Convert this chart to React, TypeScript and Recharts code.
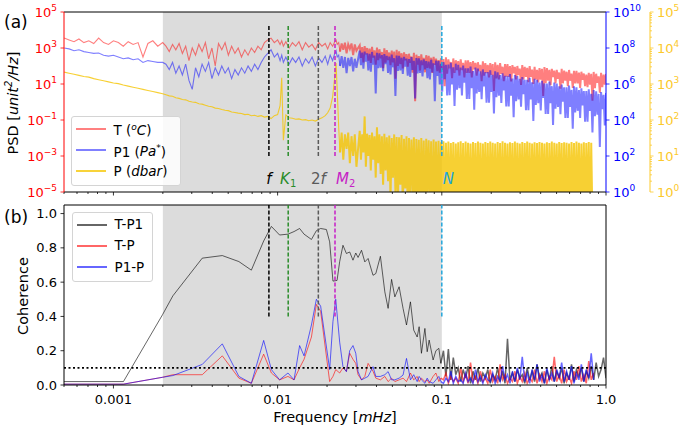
import React from 'react';
import { LineChart, Line, XAxis, YAxis, ReferenceArea, ReferenceLine, Legend } from 'recharts';

// (a) spectra — log10 of frequency [mHz] and log10 of each PSD
const psdLogFreq = [
  -3.3, -3.27, -3.24, -3.21, -3.18, -3.15, -3.12, -3.09, -3.06, -3.03, -3.0, -2.97, -2.94, -2.91, -2.88, -2.85, -2.82, -2.79, -2.76, -2.73, -2.7,
  -2.68, -2.66, -2.64, -2.62, -2.6, -2.58, -2.56, -2.54, -2.52, -2.5, -2.48, -2.46, -2.44, -2.42, -2.4, -2.38, -2.36, -2.34, -2.32, -2.3,
  -2.28, -2.26, -2.24, -2.22, -2.2, -2.18, -2.16, -2.14, -2.12, -2.1, -2.08, -2.06, -2.04, -2.02, -2.0,
  -1.985, -1.975, -1.965, -1.95,
  -1.93, -1.91, -1.89, -1.87, -1.85, -1.83, -1.81, -1.79, -1.77, -1.75, -1.73, -1.71,
  -1.695, -1.68, -1.665, -1.652, -1.644, -1.637, -1.628,
  -1.62, -1.61, -1.6, -1.59, -1.58, -1.57, -1.56, -1.55, -1.54, -1.53, -1.52,
  -1.5, -1.4925, -1.485, -1.4775, -1.47, -1.4625, -1.455, -1.4475,
  -1.44, -1.4325, -1.425, -1.4175, -1.41, -1.4025, -1.395, -1.3875,
  -1.38, -1.3725, -1.365, -1.3575, -1.35, -1.3425, -1.335, -1.3275,
  -1.32, -1.3125, -1.305, -1.2975, -1.29, -1.2825, -1.275, -1.2675,
  -1.26, -1.2525, -1.245, -1.2375, -1.23, -1.2225, -1.215, -1.2075,
  -1.2, -1.1925, -1.185, -1.1775, -1.17, -1.1625, -1.155, -1.1475,
  -1.14, -1.1325, -1.125, -1.1175, -1.11, -1.1025, -1.095, -1.0875,
  -1.08, -1.0725, -1.065, -1.0575, -1.05, -1.0425, -1.035, -1.0275,
  -1.02, -1.0125, -1.005, -0.9975, -0.99, -0.9825, -0.975, -0.9675,
  -0.96, -0.9525, -0.945, -0.9375, -0.93, -0.9225, -0.915, -0.9075,
  -0.9, -0.8925, -0.885, -0.8775, -0.87, -0.8625, -0.855, -0.8475,
  -0.84, -0.8325, -0.825, -0.8175, -0.81, -0.8025, -0.795, -0.7875,
  -0.78, -0.7725, -0.765, -0.7575, -0.75, -0.7425, -0.735, -0.7275,
  -0.72, -0.7125, -0.705, -0.6975, -0.69, -0.6825, -0.675, -0.6675,
  -0.66, -0.6525, -0.645, -0.6375, -0.63, -0.6225, -0.615, -0.6075,
  -0.6, -0.5925, -0.585, -0.5775, -0.57, -0.5625, -0.555, -0.5475,
  -0.54, -0.5325, -0.525, -0.5175, -0.51, -0.5025, -0.495, -0.4875,
  -0.48, -0.4725, -0.465, -0.4575, -0.45, -0.4425, -0.435, -0.4275,
  -0.42, -0.4125, -0.405, -0.3975, -0.39, -0.3825, -0.375, -0.3675,
  -0.36, -0.3525, -0.345, -0.3375, -0.33, -0.3225, -0.315, -0.3075,
  -0.3, -0.2925, -0.285, -0.2775, -0.27, -0.2625, -0.255, -0.2475,
  -0.24, -0.2325, -0.225, -0.2175, -0.21, -0.2025, -0.195, -0.1875,
  -0.18, -0.1725, -0.165, -0.1575, -0.15, -0.1425, -0.135, -0.1275,
  -0.12, -0.1125, -0.105, -0.0975, -0.09, -0.0825, -0.075, -0.0675,
  -0.06, -0.0525, -0.045, -0.0375, -0.03, -0.0225, -0.015, -0.0075,
  0,
];

// T in °C²/Hz (left axis)
const tempLogPsd = [
  3.55, 3.45, 3.35, 3.5, 3.3, 3.4, 3.25, 3.55, 3.3, 3.2, 3.4, 3.3, 3.1, 3.35, 3.2, 3.3, 2.5, 3.25, 3.4, 3.1, 3.3,
  3.1, 2.8, 3.2, 2.9, 3.25, 2.7, 3.1, 2.3, 3.0, 2.6, 3.2, 2.8, 3.3, 2.4, 3.0, 2.0, 3.25, 2.9, 3.3, 2.6,
  3.1, 2.7, 3.0, 2.5, 2.9, 2.6, 3.0, 2.75, 3.1, 2.9, 3.3, 3.45, 3.55, 3.3, 3.45,
  3.2, 3.4, 3.1, 3.35,
  3.0, 3.3, 3.1, 3.35, 2.9, 3.3, 3.05, 3.2, 2.9, 3.3, 3.1, 3.25,
  2.95, 3.3, 3.1, 3.35, 3.45, 3.2, 3.3,
  2.8, 3.25, 2.9, 3.3, 2.7, 3.2, 2.95, 3.25, 2.6, 3.2, 2.85,
  3.15, 2.45, 3.05, 2.2, 3.1, 2.65, 3.0, 2.3,
  2.97, 2.17, 3.07, 2.47, 2.87, 2.07, 3.02, 2.32,
  2.93, 2.43, 2.78, 1.88, 2.98, 2.18, 2.88, 2.33,
  2.75, 2.05, 2.85, 2.2, 2.8, 1.3, 2.9, 2.0,
  2.81, 2.11, 2.71, 1.86, 2.76, 2.31, 2.66, 1.96,
  2.68, 2.18, 2.53, 1.63, 2.73, 0.05, 2.63, 2.08,
  2.55, 1.75, 2.65, 2.05, 2.45, 1.65, 2.6, 1.9,
  2.56, 1.86, 2.46, 1.61, 2.51, 2.06, 2.41, 1.71,
  2.33, 1.63, 2.43, 1.78, 2.38, 0.88, 2.48, 1.58,
  2.37, 1.87, 2.22, 1.32, 2.42, 1.62, 2.32, 1.77,
  2.27, 1.47, 2.37, 1.77, 2.17, 1.37, 2.32, 1.62,
  2.32, 1.62, 2.22, 1.37, 2.27, 1.82, 2.17, 1.47,
  2.21, 1.71, 2.06, 1.16, 2.26, 1.46, 2.16, 1.61,
  2.06, 1.36, 2.16, 1.51, 2.11, 0.61, 2.21, 1.31,
  2.06, 1.26, 2.16, 1.56, 1.96, 1.16, 2.11, 1.41,
  2.1, 1.4, 2.0, 1.15, 2.05, 1.6, 1.95, 1.25,
  2.0, 1.5, 1.85, 0.95, 2.05, 1.25, 1.95, 1.4,
  1.9, 1.1, 2.0, 1.4, 1.8, 1.0, 1.95, 1.25,
  1.79, 1.09, 1.89, 1.24, 1.84, 0.34, 1.94, 1.04,
  1.89, 1.19, 1.79, 0.94, 1.84, 1.39, 1.74, 1.04,
  1.79, 1.29, 1.64, 0.74, 1.84, 1.04, 1.74, 1.19,
  1.68, 0.88, 1.78, 1.18, 1.58, 0.78, 1.73, 1.03,
  1.73, 1.03, 1.63, 0.78, 1.68, 1.23, 1.58, 0.88,
  1.52, 0.82, 1.62, 0.97, 1.57, 0.07, 1.67, 0.77,
  1.57, 1.07, 1.42, 0.52, 1.62, 0.82, 1.52, 0.97,
  1.56,
];

// P1 in Pa*²/Hz (inner right axis)
const p1LogPsd = [
  8.0, 7.95, 7.85, 7.9, 7.8, 7.75, 7.7, 7.72, 7.6, 7.55, 7.6, 7.5, 7.4, 7.45, 7.35, 7.4, 7.2, 7.3, 7.25, 7.2, 7.2,
  7.1, 6.8, 7.2, 6.6, 7.0, 6.5, 7.1, 6.2, 5.7, 6.9, 6.4, 7.1, 6.7, 7.2, 6.3, 6.9, 6.5, 7.0, 6.6, 6.9,
  6.3, 6.8, 6.5, 6.9, 6.6, 7.0, 6.7, 7.1, 6.8, 7.2, 7.5, 7.7, 7.9, 7.5, 7.7,
  7.3, 7.6, 7.2, 7.5,
  7.1, 7.45, 7.2, 7.5, 7.0, 7.4, 7.15, 7.5, 7.0, 7.45, 7.2, 7.55,
  7.1, 7.6, 7.3, 7.7, 7.85, 7.5, 7.6,
  7.0, 7.55, 6.9, 7.5, 6.6, 7.45, 7.0, 7.5, 6.7, 7.4, 6.9,
  7.85, 7.05, 7.75, 6.85, 7.8, 7.25, 7.7, 6.75,
  7.68, 6.68, 7.78, 7.08, 7.58, 5.48, 7.73, 6.88,
  7.71, 6.91, 7.61, 6.71, 7.66, 7.11, 7.56, 6.61,
  7.53, 6.53, 7.63, 6.93, 7.43, 5.33, 7.58, 6.73,
  7.56, 6.76, 7.46, 6.56, 7.51, 6.96, 7.41, 6.46,
  7.39, 6.39, 7.49, 6.79, 7.29, 5.19, 7.44, 6.59,
  7.42, 6.62, 7.32, 6.42, 7.37, 6.82, 7.27, 6.32,
  7.25, 6.25, 7.35, 6.65, 7.15, 5.05, 7.3, 6.45,
  7.27, 5.97, 7.12, 5.57, 7.22, 6.27, 7.07, 5.37,
  7.08, 5.38, 7.18, 5.98, 6.93, 4.78, 7.13, 5.68,
  7.07, 5.77, 6.92, 5.37, 7.02, 6.07, 6.87, 5.17,
  6.87, 5.17, 6.97, 5.77, 6.72, 4.57, 6.92, 5.47,
  6.86, 5.56, 6.71, 5.16, 6.81, 5.86, 6.66, 4.96,
  6.66, 4.96, 6.76, 5.56, 6.51, 4.36, 6.71, 5.26,
  6.65, 5.35, 6.5, 4.95, 6.6, 5.65, 6.45, 4.75,
  6.45, 4.75, 6.55, 5.35, 6.3, 4.15, 6.5, 5.05,
  6.44, 5.14, 6.29, 4.74, 6.39, 5.44, 6.24, 4.54,
  6.24, 4.54, 6.34, 5.14, 6.09, 3.94, 6.29, 4.84,
  6.23, 4.93, 6.08, 4.53, 6.18, 5.23, 6.03, 4.33,
  6.03, 4.33, 6.13, 4.93, 5.88, 3.73, 6.08, 4.63,
  6.02, 4.72, 5.87, 4.32, 5.97, 5.02, 5.82, 4.12,
  5.82, 4.12, 5.92, 4.72, 5.67, 3.52, 5.87, 4.42,
  5.81, 4.51, 5.66, 4.11, 5.76, 4.81, 5.61, 3.91,
  5.61, 3.91, 5.71, 4.51, 5.46, 3.31, 5.66, 4.21,
  5.6, 4.3, 5.45, 2.5, 5.55, 4.6, 5.4, 3.7,
  5.5,
];

// P in dbar²/Hz (outer right axis)
const presLogPsd = [
  3.33, 3.3, 3.27, 3.24, 3.21, 3.19, 3.15, 3.12, 3.09, 3.06, 3.03, 3.01, 2.97, 2.94, 2.91, 2.88, 2.85, 2.82, 2.79, 2.76, 2.73,
  2.7, 2.67, 2.66, 2.62, 2.6, 2.57, 2.56, 2.52, 2.5, 2.49, 2.45, 2.44, 2.41, 2.38, 2.37, 2.33, 2.32, 2.29, 2.27, 2.26,
  2.22, 2.21, 2.19, 2.18, 2.15, 2.16, 2.12, 2.13, 2.1, 2.12, 2.08, 2.1, 2.04, 2.12, 2.15,
  2.4, 3.17, 1.44, 2.14,
  2.06, 2.05, 2.02, 2.03, 2.0, 2.01, 1.98, 2.0, 1.97, 2.02, 2.06, 2.12,
  2.2, 2.33, 2.64, 3.2, 3.58, 2.83, 1.8,
  1.1, 1.65, 0.9, 1.6, 1.2, 1.65, 0.8, 1.55, 1.0, 1.6, 0.7,
  1.7, 0.9, 1.6, 1.1, 2.1, 0.7, 1.62, 1.0,
  1.58, 0.6, 1.65, 0.9, 1.55, 0.4, 1.8, 0.8,
  1.6, 0.5, 1.55, 0.2, 1.62, 0.6, 1.52, 0.3,
  1.57, -0.2, 1.5, 0.4, 1.6, 0.0, 1.53, -0.4,
  1.52, 0.2, 1.58, -0.5, 1.48, 0.1, 1.55, -0.6,
  1.5, -0.2, 1.46, 0.0, 1.52, -0.8, 1.47, -0.1,
  1.45, -0.7, 1.5, -0.3, 1.43, -0.9, 1.48, 0.0,
  1.44, -0.5, 1.41, -1.0, 1.46, -0.3, 1.4, -0.8,
  1.42, -0.6, 1.38, -0.2, 1.41, -1.0, 1.37, -0.4,
  1.4, -0.9, 1.36, -0.5, 1.39, -1.0, 1.35, -0.3,
  1.38, -1.0, 1.41, -0.6, 1.36, -0.9, 1.4, -0.4,
  1.37, -0.8, 1.35, -1.0, 1.39, -0.5, 1.36, -0.9,
  1.4, -0.6, 1.37, -1.0, 1.35, -0.4, 1.39, -0.9,
  1.36, -1.0, 1.4, -0.5, 1.37, -0.8, 1.35, -1.0,
  1.39, -0.4, 1.36, -0.9, 1.41, -1.0, 1.37, -0.6,
  1.35, -0.9, 1.38, -0.5, 1.36, -1.0, 1.4, -0.7,
  1.37, -1.0, 1.35, -0.6, 1.39, -0.9, 1.36, -0.4,
  1.4, -0.8, 1.37, -1.0, 1.35, -0.5, 1.38, -0.9,
  1.36, -0.6, 1.39, -1.0, 1.37, -0.4, 1.35, -0.9,
  1.38, -1.0, 1.36, -0.7, 1.4, -0.9, 1.37, -0.5,
  1.35, -0.9, 1.39, -0.4, 1.36, -1.0, 1.38, -0.6,
  1.37, -1.0, 1.35, -0.8, 1.39, -0.5, 1.36, -0.9,
  1.4, -0.6, 1.37, -1.0, 1.35, -0.7, 1.38, -0.9,
  1.36, -0.5, 1.39, -1.0, 1.37, -0.8, null, null,
  null, null, null, null, null, null, null, null,
  null,
];

// (b) coherence — log10 of frequency [mHz]
const cohLogFreq = [
  -3.301, -2.939, -2.701, -2.638, -2.459, -2.337, -2.236, -2.16, -2.085, -2.038,
  -1.988, -1.937, -1.9, -1.866, -1.839, -1.794, -1.764, -1.738, -1.703, -1.683,
  -1.663, -1.646, -1.638, -1.622, -1.602, -1.581, -1.561, -1.541, -1.524, -1.51,
  -1.489, -1.469, -1.449, -1.419, -1.402, -1.374, -1.347, -1.327, -1.306, -1.286,
  -1.26, -1.236, -1.215, -1.191, -1.171, -1.15, -1.138, -1.124, -1.103, -1.089,
  -1.077, -1.053, -1.036, -1.018, -1.006,
  -0.99, -0.975, -0.96, -0.945, -0.93, -0.915, -0.9, -0.885, -0.87, -0.855,
  -0.84, -0.825, -0.81, -0.795, -0.78, -0.765, -0.75, -0.735, -0.72, -0.705,
  -0.69, -0.675, -0.66, -0.645, -0.63, -0.615, -0.6, -0.585, -0.57, -0.555,
  -0.54, -0.525, -0.51, -0.495, -0.48, -0.465, -0.45, -0.435, -0.42, -0.405,
  -0.39, -0.375, -0.36, -0.345, -0.33, -0.315, -0.3, -0.285, -0.27, -0.255,
  -0.24, -0.225, -0.21, -0.195, -0.18, -0.165, -0.15, -0.135, -0.12, -0.105,
  -0.09, -0.075, -0.06, -0.045, -0.03, -0.015, 0,
];

const cohTP1 = [
  0.02, 0.02, 0.41, 0.52, 0.74, 0.755, 0.72, 0.67, 0.84, 0.925,
  0.875, 0.88, 0.895, 0.913, 0.88, 0.849, 0.9, 0.913, 0.907, 0.835,
  0.606, null, 0.61, 0.72, 0.815, 0.767, 0.776, 0.728, 0.77, 0.744,
  0.786, 0.718, 0.738, 0.64, 0.65, 0.751, 0.543, 0.447, 0.616, 0.514,
  0.573, 0.447, 0.35, 0.485, 0.32, 0.28, 0.34, 0.185, 0.33, 0.194,
  0.262, 0.146, 0.2, 0.214, 0.126,
  0.2, 0.05, 0.21, 0.03, 0.16, 0.06, 0.1, 0.02, 0.09, 0.04,
  0.11, 0.01, 0.08, 0.03, 0.1, 0.02, 0.07, 0.04, 0.09, 0.01,
  0.06, 0.03, 0.1, 0.02, 0.08, 0.01, 0.27, 0.03, 0.07, 0.02,
  0.09, 0.04, 0.06, 0.01, 0.1, 0.03, 0.08, 0.02, 0.12, 0.04,
  0.07, 0.01, 0.09, 0.03, 0.11, 0.02, 0.08, 0.04, 0.1, 0.01,
  0.07, 0.03, 0.12, 0.02, 0.09, 0.05, 0.1, 0.02, 0.08, 0.04,
  0.11, 0.03, 0.13, 0.05, 0.09, 0.16, 0.04,
];

const cohTP = [
  0.005, 0.005, 0.045, 0.06, 0.06, 0.17, 0.04, 0.01, 0.18, 0.07,
  0.03, 0.05, 0.03, 0.1, 0.15, 0.28, 0.47, 0.43, null, 0.02,
  0.05, 0.09, null, 0.07, 0.1, 0.08, 0.185, 0.15, 0.126, 0.06,
  0.03, 0.05, 0.126, 0.08, 0.04, 0.03, 0.05, 0.02, 0.04, 0.02,
  0.03, 0.04, 0.02, 0.07, 0.03, 0.05, 0.02, 0.04, 0.02, 0.03,
  0.01, 0.05, 0.07, 0.02, 0.04,
  0.03, 0.07, 0.01, 0.05, 0.02, 0.04, 0.01, 0.1, 0.02, 0.06,
  0.01, 0.13, 0.02, 0.05, 0.01, 0.08, 0.02, 0.04, 0.01, 0.09,
  0.02, 0.05, 0.01, 0.12, 0.03, 0.06, 0.01, 0.04, 0.02, 0.08,
  0.01, 0.05, 0.02, 0.07, 0.01, 0.04, 0.02, 0.09, 0.01, 0.06,
  0.02, 0.08, 0.01, 0.05, 0.03, 0.165, 0.02, 0.06, 0.01, 0.09,
  0.02, 0.05, 0.01, 0.08, 0.03, 0.11, 0.02, 0.06, 0.01, 0.14,
  0.03, 0.07, null, null, null, null, null,
];

const cohP1P = [
  0.005, 0.005, 0.045, 0.055, 0.12, 0.24, 0.05, 0.01, 0.26, 0.09,
  0.03, 0.07, 0.03, 0.23, 0.17, 0.35, 0.5, 0.46, null, 0.09,
  0.37, 0.5, null, 0.25, 0.107, 0.078, 0.2, 0.23, 0.185, 0.078,
  0.03, 0.04, 0.05, 0.107, 0.05, 0.05, 0.06, 0.078, 0.03, 0.03,
  0.04, 0.058, 0.155, 0.03, 0.06, 0.02, 0.05, 0.03, 0.01, 0.04,
  0.02, 0.01, 0.03, 0.05, 0.02,
  0.01, 0.04, 0.02, 0.08, 0.01, 0.05, 0.02, 0.03, 0.01, 0.07,
  0.02, 0.04, 0.01, 0.09, 0.02, 0.05, 0.01, 0.06, 0.03, 0.02,
  0.07, 0.01, 0.05, 0.02, 0.11, 0.03, 0.06, 0.01, 0.08, 0.02,
  0.1, 0.03, 0.165, 0.02, 0.07, 0.01, 0.09, 0.03, 0.12, 0.02,
  0.06, 0.01, 0.1, 0.03, 0.07, 0.02, 0.09, 0.04, 0.13, 0.02,
  0.08, 0.03, 0.11, 0.01, 0.07, 0.03, 0.12, 0.02, 0.09, 0.04,
  0.185, 0.03, null, null, null, null, null,
];

// axes
const xTicks = [
  0.0005, 0.0006, 0.0007, 0.0008, 0.0009, 0.001, 0.002, 0.003, 0.004, 0.005, 0.006, 0.007, 0.008, 0.009,
  0.01, 0.02, 0.03, 0.04, 0.05, 0.06, 0.07, 0.08, 0.09, 0.1, 0.2, 0.3, 0.4, 0.5, 0.6, 0.7, 0.8, 0.9, 1,
];
const xMajor = [0.001, 0.01, 0.1, 1];
const xMajorLabels = ['0.001', '0.01', '0.1', '1.0'];
const tempTicks = [1e-5, 1e-3, 1e-1, 1e1, 1e3, 1e5];
const p1Ticks = [1, 1e2, 1e4, 1e6, 1e8, 1e10];
const presTicks = [
  1, 2, 3, 4, 5, 6, 7, 8, 9, 10, 20, 30, 40, 50, 60, 70, 80, 90, 100, 200, 300, 400, 500, 600, 700, 800, 900,
  1000, 2000, 3000, 4000, 5000, 6000, 7000, 8000, 9000, 10000, 20000, 30000, 40000, 50000, 60000, 70000, 80000, 90000, 100000,
];
const cohTicks = [0, 0.2, 0.4, 0.6, 0.8, 1.0];

// gray band and significance level
const bandEdges = [0.002, 0.1];
const cohLevel = 0.1;

// f, K1, 2f, M2, N
const markerFreq = [0.00885, 0.0116, 0.0177, 0.02236, 0.1];
const markerColor = ['#000000', '#2a8c2a', '#5a5a5a', '#c61fc6', '#22a6dc'];

// above these frequencies the records are dense noise, drawn with a heavier stroke
const psdDenseFrom = -1.62;
const cohDenseFrom = -1.006;

const RED = '#ff0000';
const BLUE = '#0000ff';
const GOLD = '#f5c400';
const GOLD_AXIS = '#fcc92b';
const FONT = "'DejaVu Sans', sans-serif";

const pow10 = (v: number | null) => (v == null ? null : Math.pow(10, v));
const part = (v: number | null, keep: boolean) => (keep ? v : null);

const psdRows = psdLogFreq.map((lf, i) => {
  const lo = lf <= psdDenseFrom;
  const hi = lf >= psdDenseFrom;
  return {
    f: pow10(lf),
    T: part(pow10(tempLogPsd[i]), lo),
    P1: part(pow10(p1LogPsd[i]), lo),
    P: part(pow10(presLogPsd[i]), lo),
    Td: part(pow10(tempLogPsd[i]), hi),
    P1d: part(pow10(p1LogPsd[i]), hi),
    Pd: part(pow10(presLogPsd[i]), hi),
  };
});

const cohRows = cohLogFreq.map((lf, i) => {
  const lo = lf <= cohDenseFrom;
  const hi = lf >= cohDenseFrom;
  return {
    f: pow10(lf),
    tp1: part(cohTP1[i], lo),
    tp: part(cohTP[i], lo),
    p1p: part(cohP1P[i], lo),
    tp1d: part(cohTP1[i], hi),
    tpd: part(cohTP[i], hi),
    p1pd: part(cohP1P[i], hi),
  };
});

const expText = (e: number) => (e < 0 ? '\u2212' + Math.abs(e) : String(e));

function XTick(props: any) {
  const { x, y, payload, showLabel } = props;
  const idx = xMajor.indexOf(payload.value);
  const major = idx >= 0;
  return (
    <g>
      <line x1={x} x2={x} y1={y} y2={y + (major ? 3.5 : 2)} stroke="#000" strokeWidth={0.8} />
      {showLabel && major && (
        <text x={x} y={y + 19} textAnchor="middle" fontSize={13} fill="#000">
          {xMajorLabels[idx]}
        </text>
      )}
    </g>
  );
}

function PowTick(props: any) {
  const { x, y, payload, side, color } = props;
  const lg = Math.log10(payload.value);
  const e = Math.round(lg);
  const major = Math.abs(lg - e) < 1e-6;
  const dir = side === 'left' ? -1 : 1;
  return (
    <g>
      <line x1={x} x2={x + dir * (major ? 3.5 : 2)} y1={y} y2={y} stroke={color} strokeWidth={0.8} />
      {major && (
        <text x={x + dir * 7} y={y + 4.5} textAnchor={side === 'left' ? 'end' : 'start'} fontSize={13} fill={color}>
          10<tspan dy={-6} fontSize={9}>{expText(e)}</tspan>
        </text>
      )}
    </g>
  );
}

function CohTick(props: any) {
  const { x, y, payload } = props;
  return (
    <g>
      <line x1={x - 3.5} x2={x} y1={y} y2={y} stroke="#000" strokeWidth={0.8} />
      <text x={x - 7} y={y + 4.5} textAnchor="end" fontSize={13} fill="#000">
        {payload.value.toFixed(1)}
      </text>
    </g>
  );
}

const markerText = [
  <tspan fontStyle="italic">f</tspan>,
  <>
    <tspan fontStyle="italic">K</tspan>
    <tspan dy={3} fontSize={10}>1</tspan>
  </>,
  <>
    2<tspan fontStyle="italic">f</tspan>
  </>,
  <>
    <tspan fontStyle="italic">M</tspan>
    <tspan dy={3} fontSize={10}>2</tspan>
  </>,
  <tspan fontStyle="italic">N</tspan>,
];
const markerAnchor = ['middle', 'middle', 'middle', 'start', 'start'];

const markerLabel = (i: number) => (props: any) => {
  const vb = props.viewBox || {};
  return (
    <text
      x={vb.x + (markerAnchor[i] === 'start' ? 1 : 0)}
      y={vb.y + vb.height + 27.5}
      textAnchor={markerAnchor[i]}
      fontSize={15}
      fill={markerColor[i]}
    >
      {markerText[i]}
    </text>
  );
};

const psdTitle = (props: any) => {
  const vb = props.viewBox;
  const cy = vb.y + vb.height / 2;
  return (
    <g>
      <text x={4} y={28} fontSize={17} fill="#000">(a)</text>
      <text transform={`translate(17.5, ${cy + 1}) rotate(-90)`} textAnchor="middle" fontSize={14.5} fill="#000">
        PSD [<tspan fontStyle="italic">unit</tspan>
        <tspan fontStyle="italic" dy={-6} fontSize={10}>2</tspan>
        <tspan fontStyle="italic" dy={6}>/Hz</tspan>]
      </text>
    </g>
  );
};

const cohTitle = (props: any) => {
  const vb = props.viewBox;
  const cy = vb.y + vb.height / 2;
  return (
    <g>
      <text x={4} y={28} fontSize={17} fill="#000">(b)</text>
      <text transform={`translate(28, ${cy + 1}) rotate(-90)`} textAnchor="middle" fontSize={14.5} fill="#000">
        Coherence
      </text>
    </g>
  );
};

const freqTitle = (props: any) => {
  const vb = props.viewBox;
  return (
    <text x={vb.x + vb.width / 2} y={vb.y + 37} textAnchor="middle" fontSize={14.5} fill="#000">
      Frequency [<tspan fontStyle="italic">mHz</tspan>]
    </text>
  );
};

const psdLegend = [
  { color: '#ff8080', label: <>T (<i><sup style={{ fontSize: 9 }}>o</sup>C</i>)</> },
  { color: '#8080ff', label: <>P1 (<i>Pa<sup style={{ fontSize: 9 }}>*</sup></i>)</> },
  { color: '#f8d33a', label: <>P (<i>dbar</i>)</> },
];
const cohLegend = [
  { color: '#666666', label: <>T-P1</> },
  { color: '#ff6666', label: <>T-P</> },
  { color: '#6666ff', label: <>P1-P</> },
];

function LegendBox({ items, width }: { items: { color: string; label: React.ReactNode }[]; width: number }) {
  return (
    <div
      style={{
        width,
        boxSizing: 'border-box',
        border: '1px solid #d4d4d4',
        borderRadius: 3,
        background: 'rgba(255,255,255,0.85)',
        padding: '1px 0 3px 0',
        fontSize: 13.5,
        fontFamily: FONT,
        color: '#000',
      }}
    >
      {items.map((it, i) => (
        <div key={i} style={{ display: 'flex', alignItems: 'center', height: 21.3, lineHeight: '21.3px' }}>
          <div style={{ marginLeft: 4, width: 30, height: 2, background: it.color, flex: 'none' }} />
          <span style={{ marginLeft: 7.5, whiteSpace: 'nowrap' }}>{it.label}</span>
        </div>
      ))}
    </div>
  );
}

export default function App() {
  return (
    <div style={{ position: 'absolute', left: 0, top: 0, width: 685, height: 431, background: '#fff', fontFamily: FONT }}>
      <div style={{ position: 'absolute', left: 0, top: 0 }}>
        <LineChart width={685} height={200} data={psdRows} margin={{ top: 12, right: 0, bottom: 0, left: 0 }}>
          <ReferenceArea yAxisId="left" x1={bandEdges[0]} x2={bandEdges[1]} fill="#dcdcdc" fillOpacity={1} stroke="none" />
          <XAxis
            dataKey="f"
            type="number"
            scale="log"
            domain={[0.0005, 1]}
            allowDataOverflow
            ticks={xTicks}
            interval={0}
            height={8}
            tickSize={0}
            tickMargin={0}
            tickLine={false}
            axisLine={{ stroke: '#000', strokeWidth: 1 }}
            tick={(p: any) => <XTick {...p} />}
          />
          <YAxis
            yAxisId="left"
            type="number"
            scale="log"
            domain={[1e-5, 1e5]}
            allowDataOverflow
            ticks={tempTicks}
            interval={0}
            width={64}
            tickSize={0}
            tickMargin={0}
            tickLine={false}
            axisLine={{ stroke: RED, strokeWidth: 1 }}
            tick={(p: any) => <PowTick {...p} side="left" color={RED} />}
            label={psdTitle}
          />
          <YAxis
            yAxisId="right2"
            orientation="right"
            type="number"
            scale="log"
            domain={[1, 1e5]}
            allowDataOverflow
            ticks={presTicks}
            interval={0}
            width={35}
            tickSize={0}
            tickMargin={0}
            tickLine={false}
            axisLine={{ stroke: GOLD_AXIS, strokeWidth: 1 }}
            tick={(p: any) => <PowTick {...p} side="right" color={GOLD_AXIS} />}
          />
          <YAxis
            yAxisId="right1"
            orientation="right"
            type="number"
            scale="log"
            domain={[1, 1e10]}
            allowDataOverflow
            ticks={p1Ticks}
            interval={0}
            width={44}
            tickSize={0}
            tickMargin={0}
            tickLine={false}
            axisLine={{ stroke: BLUE, strokeWidth: 1 }}
            tick={(p: any) => <PowTick {...p} side="right" color={BLUE} />}
          />
          <Line yAxisId="left" dataKey="T" name="T" stroke={RED} strokeOpacity={0.5} strokeWidth={1.1} dot={false} isAnimationActive={false} />
          <Line yAxisId="left" dataKey="Td" legendType="none" stroke={RED} strokeOpacity={0.5} strokeWidth={2} dot={false} isAnimationActive={false} />
          <Line yAxisId="right1" dataKey="P1" name="P1" stroke={BLUE} strokeOpacity={0.5} strokeWidth={1.1} dot={false} isAnimationActive={false} />
          <Line yAxisId="right1" dataKey="P1d" legendType="none" stroke={BLUE} strokeOpacity={0.5} strokeWidth={2} dot={false} isAnimationActive={false} />
          <Line yAxisId="right2" dataKey="P" name="P" stroke={GOLD} strokeOpacity={0.8} strokeWidth={1.1} dot={false} isAnimationActive={false} />
          <Line yAxisId="right2" dataKey="Pd" legendType="none" stroke={GOLD} strokeOpacity={0.8} strokeWidth={2} dot={false} isAnimationActive={false} />
          <ReferenceLine yAxisId="left" y={1e5} stroke="#000" strokeWidth={1} />
          {markerFreq.map((f, i) => (
            <ReferenceLine
              key={'m' + i}
              yAxisId="left"
              segment={[{ x: f, y: 1e-3 }, { x: f, y: 1.9e4 }]}
              stroke={markerColor[i]}
              strokeWidth={1.5}
              strokeDasharray="4 2"
              label={markerLabel(i)}
            />
          ))}
          <Legend
            layout="vertical"
            align="center"
            verticalAlign="middle"
            wrapperStyle={{ left: 71, top: 116, width: 110 }}
            content={() => <LegendBox items={psdLegend} width={110} />}
          />
        </LineChart>
      </div>

      <div style={{ position: 'absolute', left: 0, top: 195 }}>
        <LineChart width={685} height={236} data={cohRows} margin={{ top: 10, right: 79, bottom: 0, left: 0 }}>
          <ReferenceArea x1={bandEdges[0]} x2={bandEdges[1]} fill="#dcdcdc" fillOpacity={1} stroke="none" />
          <XAxis
            dataKey="f"
            type="number"
            scale="log"
            domain={[0.0005, 1]}
            allowDataOverflow
            ticks={xTicks}
            interval={0}
            height={46}
            tickSize={0}
            tickMargin={0}
            tickLine={false}
            axisLine={{ stroke: '#000', strokeWidth: 1 }}
            tick={(p: any) => <XTick {...p} showLabel />}
            label={freqTitle}
          />
          <YAxis
            type="number"
            domain={[0, 1.05]}
            allowDataOverflow
            ticks={cohTicks}
            interval={0}
            width={64}
            tickSize={0}
            tickMargin={0}
            tickLine={false}
            axisLine={{ stroke: '#000', strokeWidth: 1 }}
            tick={(p: any) => <CohTick {...p} />}
            label={cohTitle}
          />
          <Line dataKey="tp1" name="T-P1" stroke="#000" strokeOpacity={0.6} strokeWidth={1} dot={false} connectNulls isAnimationActive={false} />
          <Line dataKey="tp1d" legendType="none" stroke="#000" strokeOpacity={0.6} strokeWidth={1.5} dot={false} isAnimationActive={false} />
          <Line dataKey="tp" name="T-P" stroke={RED} strokeOpacity={0.6} strokeWidth={1} dot={false} connectNulls isAnimationActive={false} />
          <Line dataKey="tpd" legendType="none" stroke={RED} strokeOpacity={0.6} strokeWidth={1.5} dot={false} isAnimationActive={false} />
          <Line dataKey="p1p" name="P1-P" stroke={BLUE} strokeOpacity={0.6} strokeWidth={1} dot={false} connectNulls isAnimationActive={false} />
          <Line dataKey="p1pd" legendType="none" stroke={BLUE} strokeOpacity={0.6} strokeWidth={1.5} dot={false} isAnimationActive={false} />
          <ReferenceLine y={cohLevel} stroke="#000" strokeWidth={1.8} strokeDasharray="2 2.5" />
          <ReferenceLine y={1.05} stroke="#000" strokeWidth={1} />
          <ReferenceLine x={1} stroke="#000" strokeWidth={1} />
          {markerFreq.map((f, i) => (
            <ReferenceLine
              key={'c' + i}
              segment={[{ x: f, y: 0.4 }, { x: f, y: 1.05 }]}
              stroke={markerColor[i]}
              strokeWidth={1.5}
              strokeDasharray="4 2"
            />
          ))}
          <Legend
            layout="vertical"
            align="center"
            verticalAlign="middle"
            wrapperStyle={{ left: 72, top: 17, width: 81 }}
            content={() => <LegendBox items={cohLegend} width={81} />}
          />
        </LineChart>
      </div>
    </div>
  );
}
